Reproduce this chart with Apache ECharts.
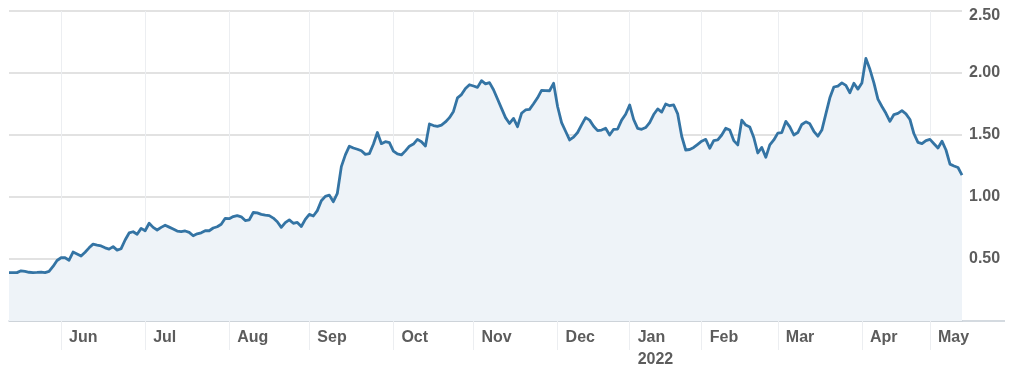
<!DOCTYPE html>
<html>
<head>
<meta charset="utf-8">
<script src="https://cdn.jsdelivr.net/npm/echarts@6/dist/echarts.min.js"></script>
<style>
html,body{margin:0;padding:0;background:#fff;}
#chart{width:1024px;height:377px;}
</style>
</head>
<body>
<div id="chart"></div>
<script>
// Daily closing values (one point per trading session, mid-May 2021 to early May 2022)
const prices = [
0.39,0.39,0.39,0.405,0.40,0.393,0.39,0.392,0.395,0.39,
0.40,0.44,0.488,0.51,0.51,0.49,0.556,0.54,0.524,0.555,
0.59,0.62,0.612,0.605,0.59,0.58,0.60,0.572,0.583,0.653,
0.71,0.72,0.70,0.747,0.728,0.788,0.755,0.734,0.755,0.772,
0.757,0.742,0.725,0.72,0.726,0.715,0.687,0.703,0.711,0.728,
0.728,0.75,0.76,0.78,0.828,0.825,0.842,0.85,0.84,0.81,
0.815,0.875,0.872,0.86,0.854,0.85,0.83,0.80,0.755,0.793,
0.815,0.788,0.795,0.762,0.82,0.86,0.847,0.89,0.97,1.005,
1.015,0.962,1.03,1.245,1.34,1.41,1.395,1.385,1.373,1.344,
1.35,1.425,1.52,1.43,1.446,1.438,1.37,1.347,1.339,1.372,
1.41,1.427,1.465,1.446,1.411,1.589,1.576,1.57,1.58,1.605,
1.64,1.69,1.80,1.826,1.875,1.905,1.895,1.884,1.938,1.912,
1.922,1.865,1.79,1.715,1.64,1.593,1.634,1.567,1.675,1.702,
1.707,1.752,1.80,1.86,1.858,1.857,1.917,1.73,1.60,1.53,
1.46,1.483,1.52,1.581,1.64,1.62,1.57,1.535,1.54,1.554,
1.50,1.546,1.548,1.62,1.667,1.742,1.625,1.554,1.546,1.56,
1.60,1.665,1.71,1.685,1.75,1.736,1.742,1.67,1.49,1.379,
1.383,1.40,1.425,1.45,1.465,1.393,1.455,1.46,1.50,1.555,
1.54,1.455,1.42,1.62,1.58,1.565,1.48,1.355,1.40,1.32,
1.42,1.46,1.515,1.52,1.61,1.565,1.50,1.52,1.585,1.606,
1.59,1.53,1.49,1.54,1.67,1.80,1.887,1.895,1.92,1.90,
1.841,1.917,1.87,1.92,2.118,2.03,1.92,1.79,1.73,1.675,
1.61,1.665,1.675,1.696,1.67,1.625,1.51,1.44,1.43,1.455,
1.465,1.43,1.395,1.45,1.379,1.265,1.25,1.238,1.177
];
// Session index at which each month begins, and its label
const monthStartIndex = [13, 34, 55, 75, 96, 116, 137, 155, 173, 192, 213, 230];
const monthLabels = ['Jun','Jul','Aug','Sep','Oct','Nov','Dec','Jan\n2022','Feb','Mar','Apr','May'];
// Y axis ticks
const yMin = 0, yMax = 2.5, yStep = 0.5;

const sessions = prices.map((_, i) => i);
const isMonthStart = (i) => monthStartIndex.indexOf(i) >= 0;

const chart = echarts.init(document.getElementById('chart'), null, {renderer: 'canvas'});
const option = {
  animation: false,
  backgroundColor: '#ffffff',
  grid: {left: 9, right: 62, top: 11, bottom: 56, containLabel: false},
  xAxis: {
    type: 'category',
    data: sessions,
    boundaryGap: false,
    axisLine: {show: true, lineStyle: {color: '#c6ced6', width: 1.5}},
    axisTick: {show: true, interval: (i) => isMonthStart(i), length: 29, inside: false,
      lineStyle: {color: '#eceef1', width: 1}},
    splitLine: {show: true, interval: (i) => isMonthStart(i), lineStyle: {color: '#eceef1', width: 1}},
    axisLabel: {
      show: true,
      interval: (i) => isMonthStart(i),
      formatter: (v, i) => { const k = monthStartIndex.indexOf(Number(v)); return k >= 0 ? monthLabels[k] : ''; },
      align: 'left',
      padding: [0, 0, 0, 8],
      margin: 6,
      lineHeight: 22,
      color: '#5c5c5c',
      fontFamily: 'Liberation Sans, Arial, sans-serif',
      fontWeight: 'bold',
      fontSize: 16
    }
  },
  yAxis: {
    type: 'value',
    position: 'right',
    min: yMin, max: yMax, interval: yStep,
    axisLine: {show: false},
    axisTick: {show: false},
    splitLine: {show: true, lineStyle: {color: '#d9d9d9', width: 1.5}},
    axisLabel: {
      margin: 7,
      color: '#5c5c5c',
      fontFamily: 'Liberation Sans, Arial, sans-serif',
      fontWeight: 'bold',
      fontSize: 16,
      formatter: (v) => v === 0 ? '' : (v === yMax ? '{t|' + v.toFixed(2) + '}' : v.toFixed(2)),
      rich: {t: {padding: [10, 0, 0, 0], color: '#5c5c5c', fontFamily: 'Liberation Sans, Arial, sans-serif', fontWeight: 'bold', fontSize: 16}}
    }
  },
  graphic: [{
    type: 'line', z: 10,
    shape: {x1: 962, y1: 321, x2: 1005, y2: 321},
    style: {stroke: '#c6ced6', lineWidth: 1.5}
  }],
  series: [{
    type: 'line',
    data: prices,
    showSymbol: false,
    symbol: 'none',
    smooth: false,
    lineStyle: {color: '#3474a4', width: 2.8, join: 'round'},
    areaStyle: {color: '#eef3f8', opacity: 1}
  }]
};
chart.setOption(option);
</script>
</body>
</html>
